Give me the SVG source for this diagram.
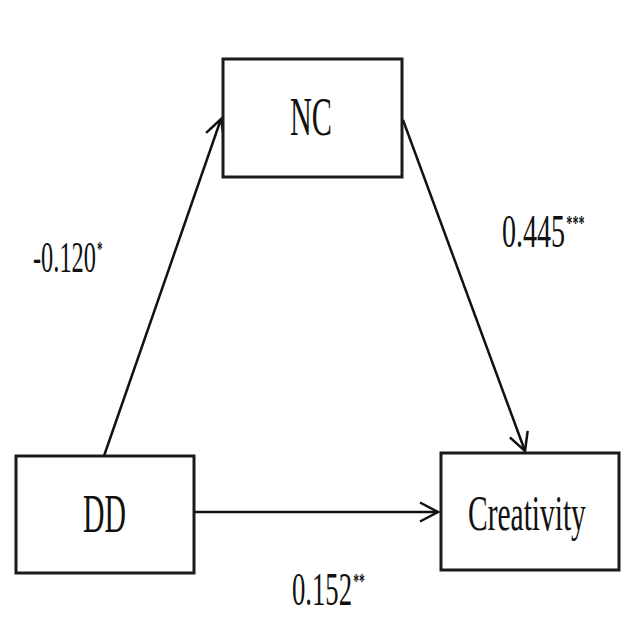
<svg xmlns="http://www.w3.org/2000/svg" width="627" height="630" viewBox="0 0 627 630">
<style>
.box{fill:#fff;stroke:#1a1a1a;stroke-width:3}
.lbl{font-family:"Liberation Serif","Times New Roman",serif;fill:#111}
.sup{font-weight:bold;font-size:20px}
.edge{stroke:#111;stroke-width:2.5;fill:none}
</style>
<defs>
<marker id="arr" markerUnits="userSpaceOnUse" markerWidth="30" markerHeight="30" viewBox="-22 -15 26 30" refX="0" refY="0" orient="auto">
<path d="M -18 -9.5 L 0 0 L -18 9.5" fill="none" stroke="#111" stroke-width="2.5"/>
</marker>
</defs>
<rect width="627" height="630" fill="#fff"/>
<g id="connectors">
<line class="edge" x1="104" y1="456" x2="221" y2="119" marker-end="url(#arr)"/>
<line class="edge" x1="403" y1="120" x2="525" y2="451" marker-end="url(#arr)"/>
<line class="edge" x1="195" y1="512" x2="438" y2="512" marker-end="url(#arr)"/>
</g>
<g id="node-NC">
<rect class="box" x="223" y="59" width="179" height="118"/>
<text class="lbl" transform="translate(290,135) scale(0.56,1)" font-size="54">NC</text>
</g>
<g id="node-DD">
<rect class="box" x="16" y="456" width="178" height="117"/>
<text class="lbl" transform="translate(83,532) scale(0.551,1)" font-size="54">DD</text>
</g>
<g id="node-Creativity">
<rect class="box" x="441" y="453" width="178" height="117"/>
<text class="lbl" transform="translate(468,530) scale(0.578,1)" font-size="51">Creativity</text>
</g>
<g id="label-a">
<text class="lbl" transform="translate(33,272) scale(0.554,1)" font-size="44">-0.120<tspan class="sup" dx="2" dy="-16">*</tspan></text>
</g>
<g id="label-b">
<text class="lbl" transform="translate(502,247) scale(0.61,1)" font-size="46">0.445<tspan class="sup" dx="2" dy="-17">***</tspan></text>
</g>
<g id="label-c">
<text class="lbl" transform="translate(292,605) scale(0.58,1)" font-size="46">0.152<tspan class="sup" dx="2" dy="-17">**</tspan></text>
</g>
</svg>
